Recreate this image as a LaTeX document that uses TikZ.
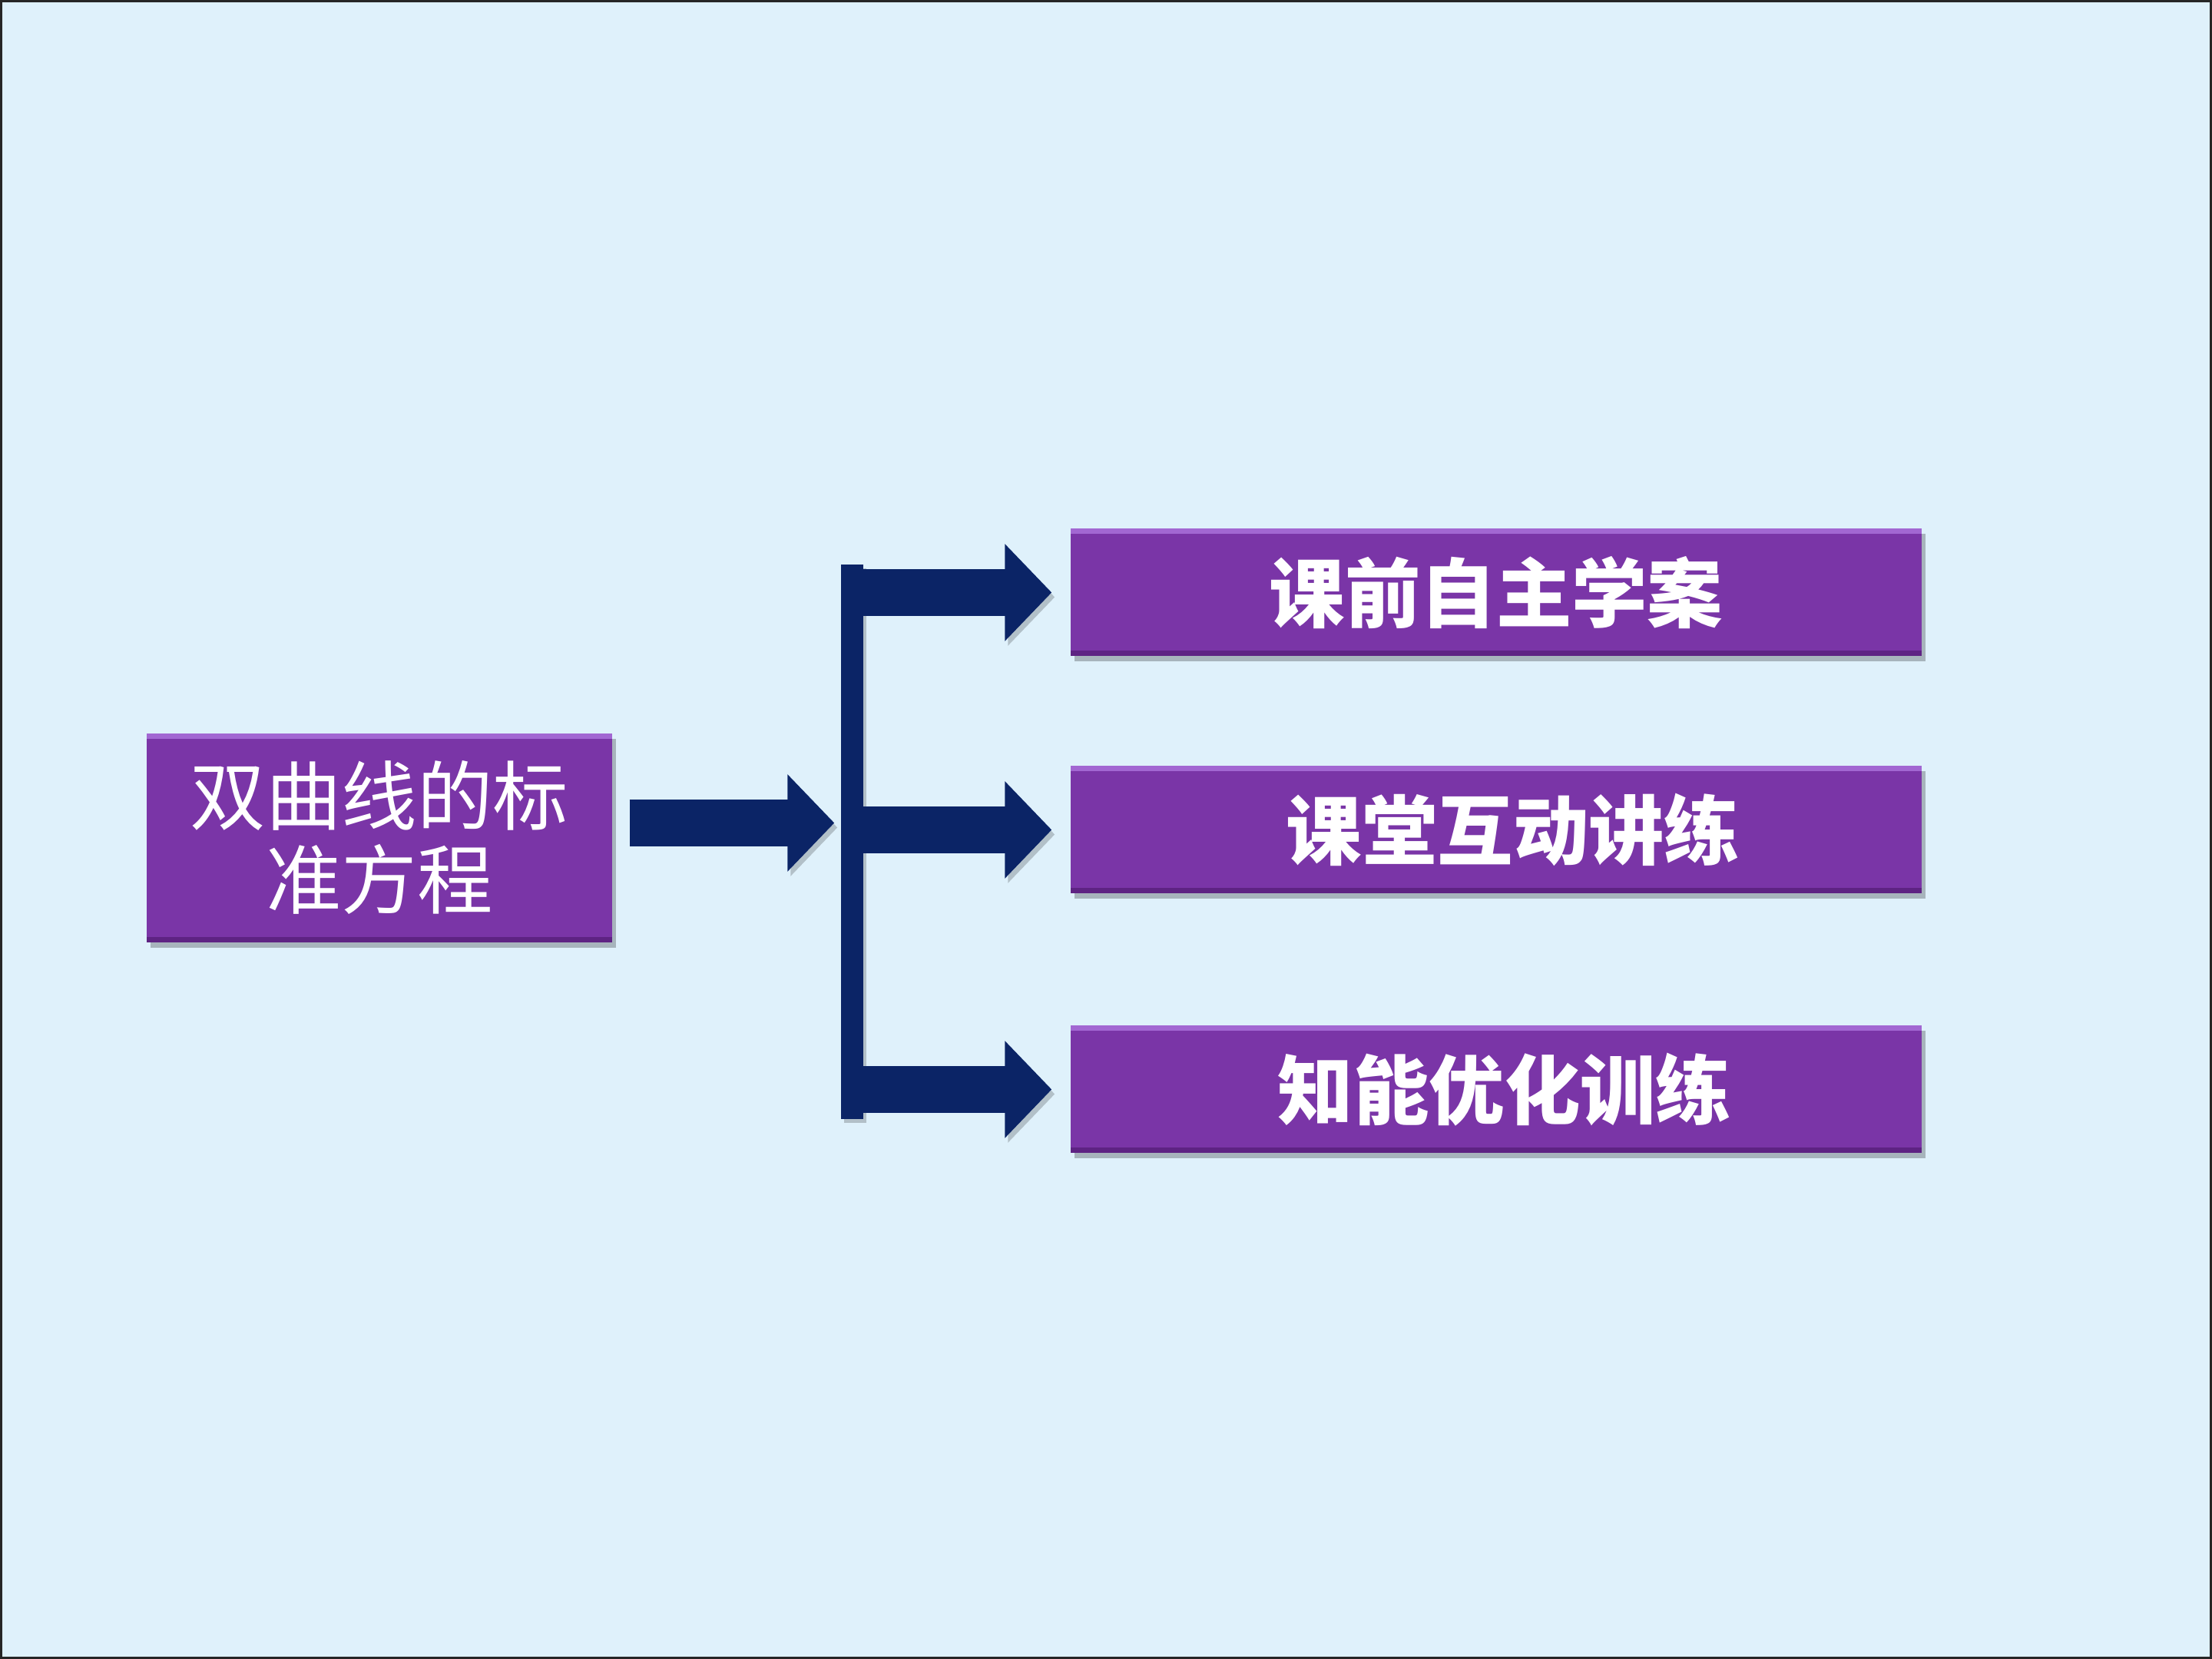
\documentclass[tikz,border=0pt]{standalone}
\usepackage{fontspec}
\newfontfamily\cjk{Noto Sans CJK SC}
\usetikzlibrary{arrows.meta,positioning,shadows}

\definecolor{bgblue}{HTML}{DFF1FB}
\definecolor{boxpurple}{HTML}{7A35A7}
\definecolor{boxlight}{HTML}{A267D2}
\definecolor{boxdark}{HTML}{5E2383}
\definecolor{navy}{HTML}{0B2466}

\tikzset{
  topicbox/.style={rectangle, fill=boxpurple, text=white, inner sep=0pt,
    drop shadow={shadow xshift=0.05cm, shadow yshift=-0.07cm, fill=black, opacity=0.25},
    path picture={
      \fill[boxlight] (path picture bounding box.north west) rectangle
        ([yshift=-0.07cm]path picture bounding box.north east);
      \fill[boxdark] (path picture bounding box.south west) rectangle
        ([yshift=0.07cm]path picture bounding box.south east);}},
  mainbox/.style={topicbox, minimum width=6.06cm, minimum height=2.72cm,
    align=center, font=\cjk\fontsize{28}{31}\selectfont},
  sectionbox/.style={topicbox, minimum width=11.08cm, minimum height=1.66cm,
    font=\cjk\bfseries\fontsize{28}{31}\selectfont},
  blockarrow/.style={draw=navy, line width=0.61cm,
    -{Triangle[length=0.61cm, width=1.23cm]},
    preaction={draw=black, opacity=0.2,
      transform canvas={xshift=0.04cm, yshift=-0.06cm}}},
}

\begin{document}
\begin{tikzpicture}
  % background and frame
  \fill[bgblue] (0,0) rectangle (28.8,21.6);
  \draw[black!85, line width=0.03cm] (0.015,0.015) rectangle (28.785,21.585);
  \useasboundingbox (0,0) rectangle (28.8,21.6);

  \node[mainbox] (lbox) at (4.94,10.69) {双曲线的标\\准方程};
  \node[fill=navy, minimum width=0.29cm, minimum height=7.22cm, inner sep=0pt,
        drop shadow={shadow xshift=0.04cm, shadow yshift=-0.05cm, fill=black, opacity=0.2}]
        (bar) at (11.095,10.64) {};

  \node[sectionbox] (r1) at (19.48,13.885) {课前自主学案};
  \node[sectionbox] (r2) at (19.48,10.795) {\hspace{0.44cm}课堂互动讲练};
  \node[sectionbox] (r3) at (19.48,7.415)  {\hspace{0.22cm}知能优化训练};

  \draw[blockarrow, shorten <=0.22cm, shorten >=0.08cm]
    ([yshift=1.95mm]lbox.east) -- ([yshift=1.95mm]lbox.east -| bar.west);
  \foreach \r in {r1,r2,r3}
    \draw[blockarrow, shorten >=0.24cm] (bar.center |- \r.west) -- (\r.west);
\end{tikzpicture}
\end{document}
